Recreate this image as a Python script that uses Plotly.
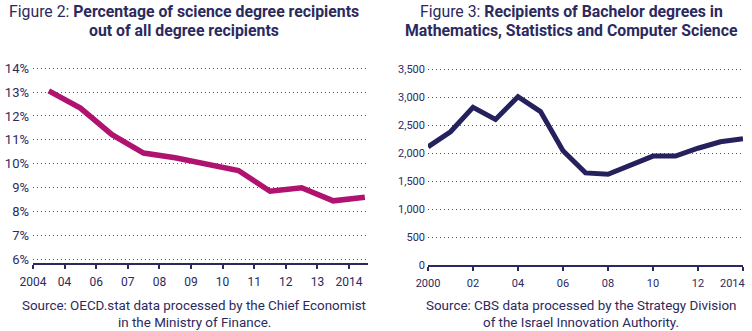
import plotly.graph_objects as go

# Left chart data
left_ticks = ["2004", "04", "06", "07", "08", "09", "10", "11", "12", "13", "2014"]
left_pos = [0.5, 1.5, 2.5, 3.5, 4.5, 5.5, 6.5, 7.5, 8.5, 9.5, 10.5]
left_vals = [13.05, 12.33, 11.22, 10.45, 10.25, 10.0, 9.72, 8.85, 9.0, 8.45, 8.6]
left_yticks = [6, 7, 8, 9, 10, 11, 12, 13, 14]

# Right chart data
right_years = list(range(2000, 2015))
right_vals = [2110, 2380, 2815, 2600, 3005, 2740, 2040, 1645, 1620, 1785, 1945, 1945, 2085, 2200, 2255]
right_xticks = [2000, 2002, 2004, 2006, 2008, 2010, 2012, 2014]
right_xlabels = ["2000", "02", "04", "06", "08", "10", "12", ""]
right_last_label = "2014"
right_yticks = [0, 500, 1000, 1500, 2000, 2500, 3000, 3500]

NAVY = "#2b2a5e"
MAGENTA = "#b0126f"
LINE_NAVY = "#24215c"
FONT = "Roboto, Lato, sans-serif"
W, H = 752, 331

fig = go.Figure()
fig.add_trace(go.Scatter(x=left_pos, y=left_vals, mode="lines",
                         line=dict(color=MAGENTA, width=5.5), xaxis="x", yaxis="y",
                         showlegend=False, hoverinfo="skip"))
fig.add_trace(go.Scatter(x=right_years, y=right_vals, mode="lines",
                         line=dict(color=LINE_NAVY, width=5), xaxis="x2", yaxis="y2",
                         showlegend=False, hoverinfo="skip"))

grid = dict(showgrid=True, gridcolor="#4a4a80", gridwidth=1, griddash="1px,3px")

fig.update_layout(
    width=W, height=H, margin=dict(l=0, r=0, t=0, b=0, autoexpand=False),
    paper_bgcolor="white", plot_bgcolor="white",
    font=dict(family=FONT, color=NAVY),
    xaxis=dict(domain=[33 / W, 368 / W], range=[0, 10.6], tickmode="array",
               tickvals=list(range(11)), ticktext=left_ticks, showline=True,
               linecolor=NAVY, linewidth=1.5, ticks="outside", ticklen=4,
               tickcolor=NAVY, tickwidth=1.5, showgrid=False, zeroline=False,
               tickfont=dict(size=12, color=NAVY), anchor="y", automargin=False,
               ticklabelstandoff=3, ticklabeloverflow="allow"),
    yaxis=dict(domain=[(H - 263) / H, (H - 61) / H], range=[5.85, 14.3],
               tickmode="array", tickvals=left_yticks,
               ticktext=[f"{v}%" for v in left_yticks], zeroline=False,
               showline=False, ticks="", tickfont=dict(size=13, color=NAVY),
               anchor="x", automargin=False, ticklabelstandoff=3, **grid),
    xaxis2=dict(domain=[428 / W, 743 / W], range=[2000, 2014], tickmode="array",
                tickvals=right_xticks, ticktext=right_xlabels, showline=True,
                linecolor=NAVY, linewidth=1.5, ticks="outside", ticklen=4,
                tickcolor=NAVY, tickwidth=1.5, showgrid=False, zeroline=False,
                tickfont=dict(size=11, color=NAVY), anchor="y2", automargin=False,
                ticklabelstandoff=3, ticklabeloverflow="allow"),
    yaxis2=dict(domain=[(H - 265) / H, (H - 63.4) / H], range=[0, 3600],
                tickmode="array", tickvals=right_yticks,
                ticktext=[f"{v:,}" for v in right_yticks], zeroline=False,
                showline=False, ticks="", tickfont=dict(size=11, color=NAVY),
                anchor="x2", automargin=False, ticklabelstandoff=2, **grid),
)

# last x tick label of the right chart, nudged left like the original
fig.add_annotation(x=right_xticks[-1], y=0, xref="x2", yref="y2", text=right_last_label,
                   showarrow=False, xanchor="right", yanchor="top", xshift=4, yshift=-10,
                   font=dict(size=11, color=NAVY, family=FONT))

ann = [
    dict(x=184, y=11.5, text="Figure 2: <b>Percentage of science degree recipients</b>", size=15.8),
    dict(x=184, y=30.5, text="<b>out of all degree recipients</b>", size=15.8),
    dict(x=571, y=11.5, text="Figure 3: <b>Recipients of Bachelor degrees in</b>", size=15.8),
    dict(x=571, y=30.5, text="<b>Mathematics, Statistics and Computer Science</b>", size=15.8),
    dict(x=194, y=305, text="Source: OECD.stat data processed by the Chief Economist", size=13.4),
    dict(x=194, y=322, text="in the Ministry of Finance.", size=13.4),
    dict(x=581, y=305, text="Source: CBS data processed by the Strategy Division", size=13.4),
    dict(x=581, y=322, text="of the Israel Innovation Authority.", size=13.4),
]
for a in ann:
    fig.add_annotation(x=a["x"] / W, y=1 - a["y"] / H, text=a["text"],
                       xref="paper", yref="paper", xanchor="center", yanchor="middle",
                       showarrow=False,
                       font=dict(size=a["size"], color=NAVY, family=FONT))

fig.write_html("out.html")
